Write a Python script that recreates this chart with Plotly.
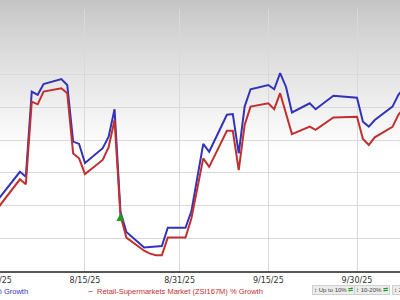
import plotly.graph_objects as go

# ---- data ----
blue_name = "Company % Growth"
blue_dates = ["2025-07-31","2025-08-04","2025-08-05","2025-08-06","2025-08-07","2025-08-08",
              "2025-08-11","2025-08-12","2025-08-13","2025-08-14","2025-08-15","2025-08-18",
              "2025-08-19","2025-08-20","2025-08-21","2025-08-22","2025-08-25","2025-08-28",
              "2025-08-29","2025-09-01","2025-09-02","2025-09-04","2025-09-05","2025-09-08",
              "2025-09-09","2025-09-10","2025-09-11","2025-09-12","2025-09-15","2025-09-16",
              "2025-09-17","2025-09-18","2025-09-19","2025-09-22","2025-09-23","2025-09-26",
              "2025-09-30","2025-10-01","2025-10-02","2025-10-03","2025-10-06","2025-10-07",
              "2025-10-08"]
blue_vals = [-18.9,-9.7,-11.2,14.8,13.8,17.1,18.6,16.8,-0.5,-1.2,-7.0,-2.5,1.0,9.4,-21.9,
             -28.1,-32.8,-32.4,-26.8,-26.8,-21.7,-1.2,-3.6,7.7,7.9,-4.1,10.2,15.5,16.8,15.5,
             20.4,16.2,8.4,11.2,9.4,13.5,12.9,5.6,4.1,6.1,10.2,13.8,16.0]

red_name = "Retail-Supermarkets Market (ZSI167M) % Growth"
red_dates = ["2025-07-31","2025-08-04","2025-08-05","2025-08-06","2025-08-07","2025-08-08",
             "2025-08-11","2025-08-12","2025-08-13","2025-08-14","2025-08-15","2025-08-18",
             "2025-08-19","2025-08-20","2025-08-21","2025-08-22","2025-08-25","2025-08-26",
             "2025-08-27","2025-08-28","2025-08-29","2025-09-01","2025-09-02","2025-09-04",
             "2025-09-05","2025-09-08","2025-09-09","2025-09-10","2025-09-11","2025-09-12",
             "2025-09-15","2025-09-16","2025-09-17","2025-09-19","2025-09-22","2025-09-23",
             "2025-09-26","2025-09-30","2025-10-01","2025-10-02","2025-10-03","2025-10-06",
             "2025-10-07","2025-10-08"]
red_vals = [-21.4,-12.0,-13.5,11.7,10.9,14.8,15.8,14.3,-4.1,-5.6,-10.4,-6.1,-2.2,6.1,-23.0,
            -29.8,-33.8,-34.7,-35.2,-35.2,-29.8,-29.8,-23.9,-5.6,-8.2,2.8,2.8,-9.2,4.6,10.2,
            11.2,9.4,14.3,1.8,4.1,3.1,6.9,7.1,0.3,-1.5,0.8,4.0,7.7,10.0]

event_dates = ["2025-08-21"]
event_vals = [-22.3]

tick_vals = ["2025-08-15", "2025-08-31", "2025-09-15", "2025-09-30"]
tick_text = ["8/15/25", "8/31/25", "9/15/25", "9/30/25"]
first_tick_text = "7/31/25"
scale_labels = ["Up to 10%", "10-20%", "20-30%"]

BLUE = "#3333b8"
RED = "#c03030"
W, H = 400, 300
T, B = 9, 29
ph = H - T - B


def py(p):
    """pixel row -> paper y"""
    return (H - B - p) / ph


def px(p):
    return p / W


fig = go.Figure()
fig.add_trace(go.Scatter(x=blue_dates, y=blue_vals, mode="lines", name=blue_name,
                         line=dict(color=BLUE, width=2), showlegend=False))
fig.add_trace(go.Scatter(x=red_dates, y=red_vals, mode="lines", name=red_name,
                         line=dict(color=RED, width=2), showlegend=False))
fig.add_trace(go.Scatter(x=event_dates, y=event_vals, mode="markers", showlegend=False,
                         marker=dict(symbol="arrow-up", size=8, color="#1e9a1e",
                                     line=dict(width=0))))

# background gradient (grey at top fading to white)
shapes = []
step = 3
for p in range(0, 156, step):
    t = min(p / 150.0, 1.0)
    c = int(round(196 + 59 * (t ** 0.85)))
    shapes.append(dict(type="rect", xref="paper", yref="paper", layer="below",
                       x0=-0.01, x1=1.01, y0=py(p + step), y1=py(p),
                       fillcolor=f"rgb({c},{c},{c})", line=dict(width=0)))

LEG_FONT = "Liberation Sans"
annotations = [
    dict(text=first_tick_text, xref="paper", yref="paper", x=px(-4), y=py(280),
         xanchor="center", yanchor="middle", showarrow=False,
         font=dict(family="DejaVu Sans", size=8, color="#333")),
    dict(text=blue_name, xref="paper", yref="paper", x=px(30), y=py(291.5),
         xanchor="right", yanchor="middle", showarrow=False,
         font=dict(family=LEG_FONT, size=7.5, color=BLUE)),
    dict(text="\u2012", xref="paper", yref="paper", x=px(90), y=py(291.5),
         xanchor="center", yanchor="middle", showarrow=False,
         font=dict(family="DejaVu Sans", size=8, color=RED)),
    dict(text=red_name, xref="paper", yref="paper", x=px(95), y=py(291.5),
         xanchor="left", yanchor="middle", showarrow=False,
         font=dict(family=LEG_FONT, size=7.5, color=RED)),
]
box_x = [312, 354, 392]
for bx, lab in zip(box_x, scale_labels):
    annotations.append(dict(
        text="\u2195 " + lab + " <span style='color:#1e9a1e'>\u21c4</span>",
        xref="paper", yref="paper", x=px(bx), y=py(289.5), xanchor="left", yanchor="middle",
        showarrow=False, bgcolor="#ececec", bordercolor="#d0d0d0", borderwidth=1, borderpad=1,
        font=dict(family="Liberation Sans", size=6, color="#444")))

fig.update_layout(
    width=W, height=H,
    margin=dict(l=0, r=0, t=T, b=B, autoexpand=False),
    paper_bgcolor="white", plot_bgcolor="rgba(0,0,0,0)",
    shapes=shapes, annotations=annotations,
    xaxis=dict(range=["2025-07-31 15:07", "2025-10-07 06:29"], type="date",
               tickvals=tick_vals, ticktext=tick_text, showgrid=True,
               gridcolor="#d9d9d9", gridwidth=1, zeroline=False,
               showline=True, linecolor="#555", linewidth=2,
               ticks="", tickfont=dict(family="DejaVu Sans", size=8, color="#333")),
    yaxis=dict(range=[-40, 40], dtick=10, showgrid=True, gridcolor="#d9d9d9", gridwidth=1,
               zeroline=False, showticklabels=False, showline=False),
)

fig.write_html("out.html")
